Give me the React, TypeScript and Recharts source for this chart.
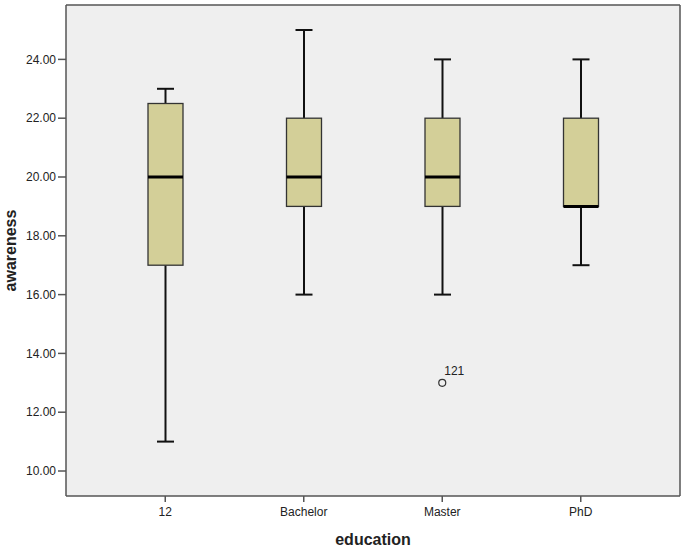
import { ComposedChart, Bar, Scatter, XAxis, YAxis, CartesianGrid } from 'recharts';

// box plot stats per education level
const categories = ['12', 'Bachelor', 'Master', 'PhD'];
const minValues = [11, 16, 16, 17];
const q1Values = [17, 19, 19, 19];
const medianValues = [20, 20, 20, 19];
const q3Values = [22.5, 22, 22, 22];
const maxValues = [23, 25, 24, 24];

// outliers
const outlierCategories = ['Master'];
const outlierValues = [13];
const outlierIds = ['121'];

const yTicks = [10, 12, 14, 16, 18, 20, 22, 24];
const yDomain = [9.15, 25.85];

const FONT = '"Liberation Sans", Arial, sans-serif';
const FRAME = '#555';

const data = categories.map((category, i) => ({
  category,
  range: [minValues[i], maxValues[i]],
  q1: q1Values[i],
  median: medianValues[i],
  q3: q3Values[i],
}));

const outlierData = outlierCategories.map((category, i) => ({
  category,
  value: outlierValues[i],
  id: outlierIds[i],
}));

const BoxShape = (props: any) => {
  const { x, y, width, height, payload } = props;
  if (!payload) return null;
  const [lo, hi] = payload.range;
  // map a value to pixels using the bar's own min..max extent
  const toY = (v: number) => y + (height * (hi - v)) / (hi - lo);
  const cx = x + width / 2;
  const cap = 8.5;
  const top = toY(hi);
  const bottom = toY(lo);
  const boxTop = toY(payload.q3);
  const boxBottom = toY(payload.q1);
  const med = toY(payload.median);
  return (
    <g>
      <line x1={cx} x2={cx} y1={top} y2={boxTop} stroke="#111" strokeWidth={2} />
      <line x1={cx} x2={cx} y1={boxBottom} y2={bottom} stroke="#111" strokeWidth={2} />
      <line x1={cx - cap} x2={cx + cap} y1={top} y2={top} stroke="#111" strokeWidth={2} />
      <line x1={cx - cap} x2={cx + cap} y1={bottom} y2={bottom} stroke="#111" strokeWidth={2} />
      <rect
        x={x}
        y={boxTop}
        width={width}
        height={boxBottom - boxTop}
        fill="#D3CF98"
        stroke="#333"
        strokeWidth={1.3}
      />
      <line x1={x} x2={x + width} y1={med} y2={med} stroke="#000" strokeWidth={3} />
    </g>
  );
};

const OutlierShape = (props: any) => {
  const { cx, cy, payload } = props;
  if (cx == null || cy == null) return null;
  return (
    <g>
      <circle cx={cx} cy={cy} r={3.5} fill="none" stroke="#333" strokeWidth={1.2} />
      <text x={cx + 2} y={cy - 8} fontSize={12} fill="#222" fontFamily={FONT}>
        {payload?.id}
      </text>
    </g>
  );
};

export default function App() {
  return (
    <div style={{ position: 'absolute', left: 0, top: 0, fontFamily: FONT }}>
      <ComposedChart
        width={685}
        height={548}
        data={data}
        margin={{ top: 5, right: 5, bottom: 0, left: 0 }}
      >
        {/* grey plot background, top and right edges of the frame */}
        <CartesianGrid
          fill="#EFEFEF"
          stroke={FRAME}
          strokeWidth={1.5}
          horizontalCoordinatesGenerator={({ offset }: any) => [offset.top]}
          verticalCoordinatesGenerator={({ offset }: any) => [offset.left + offset.width]}
        />
        <XAxis
          dataKey="category"
          type="category"
          allowDuplicatedCategory={false}
          padding={{ left: 30, right: 30 }}
          height={52}
          tickSize={6}
          tickMargin={5}
          stroke={FRAME}
          strokeWidth={1.5}
          tick={{ fill: '#222', fontSize: 12, fontFamily: FONT }}
          label={{
            value: 'education',
            position: 'insideBottom',
            offset: 3,
            style: { fontSize: 16, fontWeight: 'bold', fill: '#222', fontFamily: FONT },
          }}
        />
        <YAxis
          type="number"
          domain={yDomain}
          allowDataOverflow
          ticks={yTicks}
          tickFormatter={(v: number) => v.toFixed(2)}
          width={66}
          tickSize={8}
          tickMargin={2}
          stroke={FRAME}
          strokeWidth={1.5}
          tick={{ fill: '#222', fontSize: 12, fontFamily: FONT }}
          label={{
            value: 'awareness',
            angle: -90,
            position: 'insideLeft',
            offset: 10,
            style: {
              textAnchor: 'middle',
              fontSize: 16,
              fontWeight: 'bold',
              fill: '#222',
              fontFamily: FONT,
            },
          }}
        />
        <Bar dataKey="range" barSize={35} shape={<BoxShape />} isAnimationActive={false} />
        <Scatter
          data={outlierData}
          dataKey="value"
          shape={<OutlierShape />}
          isAnimationActive={false}
        />
      </ComposedChart>
    </div>
  );
}
